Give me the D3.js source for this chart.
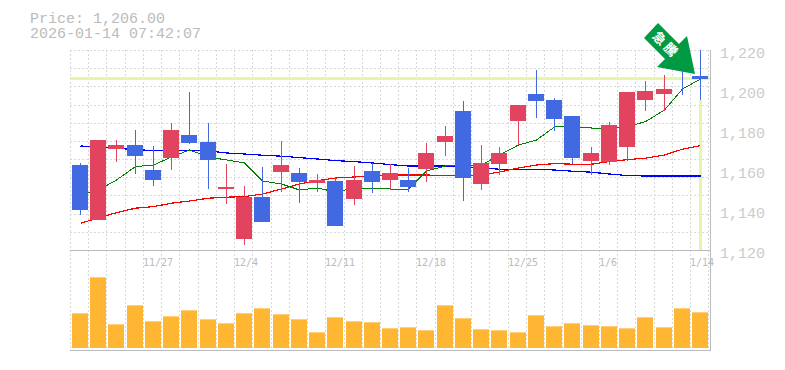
<!DOCTYPE html>
<html>
<head>
<meta charset="utf-8">
<script src="https://cdn.jsdelivr.net/npm/d3@7"></script>
<style>
    html, body { margin: 0; padding: 0; background: #fff; overflow: hidden; }
</style>
</head>
<body>
<div id="chart-container"></div>
<script>
const dates = ['11/20', '11/21', '11/25', '11/26', '11/27', '11/28', '12/1', '12/2', '12/3', '12/4', '12/5', '12/8', '12/9', '12/10', '12/11', '12/12', '12/15', '12/16', '12/17', '12/18', '12/19', '12/22', '12/23', '12/24', '12/25', '12/26', '12/29', '12/30', '1/5', '1/6', '1/7', '1/8', '1/9', '1/13', '1/14'];
const dateLabels = ['11/27', '12/4', '12/11', '12/18', '12/25', '1/6', '1/14'];
const priceTicks = [1120, 1140, 1160, 1180, 1200, 1220];

const opens = [1162.5, 1135, 1170.5, 1172.5, 1160, 1166, 1177.5, 1174, 1150.5, 1125.5, 1146.5, 1159, 1158.5, 1153.5, 1154.5, 1145.5, 1159.5, 1155, 1155, 1160.5, 1174, 1189.5, 1153, 1163, 1184.5, 1198, 1195, 1187, 1164.5, 1164, 1171.5, 1195, 1198, 1213.5, 1207];
const closes = [1140, 1175, 1172.5, 1167, 1155, 1180, 1173.5, 1165, 1151.5, 1146.5, 1134, 1162.5, 1154, 1155, 1132, 1155, 1154, 1158.5, 1151.5, 1168.5, 1177, 1156, 1163.5, 1168.5, 1192.5, 1194.5, 1185.5, 1166, 1168.5, 1182.5, 1199, 1199.5, 1200.5, 1210.5, 1205.5];
const highs = [1163.5, 1175, 1175, 1180, 1172, 1183.5, 1199, 1183.5, 1163, 1152, 1161.5, 1174.5, 1161, 1158, 1156.5, 1162, 1163.5, 1163, 1161, 1173.5, 1182, 1194.5, 1172.5, 1171.5, 1192.5, 1210, 1196, 1187, 1171.5, 1184, 1199, 1204.5, 1207.5, 1215, 1220];
const lows = [1137.5, 1135, 1164, 1158, 1152, 1160, 1173, 1150.5, 1143, 1122.5, 1134, 1149, 1143.5, 1149, 1132, 1142.5, 1148.5, 1150, 1149, 1154, 1167, 1144.5, 1150, 1157.5, 1172.5, 1186, 1179.5, 1163, 1157.5, 1162.5, 1164.5, 1189.5, 1189.5, 1197.5, 1195];
const volumes = [104, 212, 71, 128, 80, 95, 113, 86, 74, 104, 119, 101, 86, 47, 92, 80, 77, 59, 62, 53, 128, 89, 56, 53, 47, 98, 65, 74, 68, 65, 59, 92, 62, 119, 107];

const maShort = [1147.5, 1150, 1155, 1161.7, 1162.5, 1166.5, 1170, 1166.5, 1165, 1163.5, 1154.5, 1153, 1150, 1151, 1149, 1151, 1150.8, 1150.5, 1150.5, 1159.5, 1162, 1162.2, 1162.5, 1167.5, 1172.5, 1175, 1181.5, 1181.7, 1181, 1181, 1181.7, 1184.2, 1190, 1200.5, 1205.5];
const maMid = [1133.4, 1136, 1138.7, 1140.9, 1141.7, 1143.4, 1144.5, 1145.9, 1146.4, 1146.7, 1148, 1150.5, 1153, 1154.7, 1156, 1156.5, 1157, 1157.5, 1157.5, 1157.5, 1157.2, 1157.2, 1157.5, 1159, 1161, 1162.5, 1163.2, 1162.9, 1162.9, 1164.2, 1165.2, 1165.9, 1167.5, 1170.4, 1172.2];
const maLong = [1172, 1171.5, 1171, 1170, 1169.9, 1169.8, 1169.8, 1169.5, 1168.5, 1168, 1167.4, 1166.9, 1166.2, 1165.5, 1164.7, 1164.2, 1163.5, 1162.7, 1162, 1162, 1162, 1161.7, 1161, 1160.4, 1160.4, 1160.4, 1160, 1159.4, 1158.9, 1158, 1157.2, 1157, 1157, 1157, 1157];

const currentPrice = 1206;
const titleLines = ['Price: 1,206.00', '2026-01-14 07:42:07'];

function createChart(elementId) {
    // container dimensions
    const width = 785;
    const height = 370;
    const plot = { left: 70, right: 710, top: 50, priceBottom: 250, volumeBottom: 350 };

    const upColor = '#e2445f';
    const downColor = '#4169e1';
    const volumeColor = '#ffb733';
    const gridColor = '#d8d8d8';
    const frameColor = '#bbb';
    const highlightColor = '#e6f5a8';

    const svg = d3.select(elementId).append('svg')
        .attr('width', width)
        .attr('height', height)
        .style('display', 'block');

    const x = d3.scaleBand().domain(dates).range([71, 71 + 35 * 18.235]);
    const center = d => Math.round(x(d) + x.bandwidth() / 2 - 0.1);
    const y = d3.scaleLinear().domain([1120, 1220]).range([plot.priceBottom, plot.top]);
    const yVolume = d3.scaleLinear().domain([0, 294]).range([348, 250]);
    const gridX = i => Math.floor(70.5 + i * x.step()) + 0.5;

    // dashed grid
    const grid = svg.append('g')
        .attr('stroke', gridColor)
        .attr('stroke-dasharray', '2,2');

    grid.selectAll('.v')
        .data(d3.range(36))
        .join('line')
        .attr('class', 'v')
        .attr('x1', gridX)
        .attr('x2', gridX)
        .attr('y1', plot.top)
        .attr('y2', plot.volumeBottom);

    grid.selectAll('.h')
        .data(d3.range(11))
        .join('line')
        .attr('class', 'h')
        .attr('x1', plot.left)
        .attr('x2', plot.right)
        .attr('y1', i => Math.round(plot.top + i * 200 / 11) + 0.5)
        .attr('y2', i => Math.round(plot.top + i * 200 / 11) + 0.5);

    // current price markers
    const last = dates[dates.length - 1];
    svg.append('line')
        .attr('x1', plot.left)
        .attr('x2', plot.right)
        .attr('y1', y(currentPrice) + 0.5)
        .attr('y2', y(currentPrice) + 0.5)
        .attr('stroke', highlightColor)
        .attr('stroke-width', 3);

    svg.append('line')
        .attr('x1', center(last) + 0.5)
        .attr('x2', center(last) + 0.5)
        .attr('y1', y(lows[lows.length - 1]))
        .attr('y2', plot.priceBottom)
        .attr('stroke', highlightColor)
        .attr('stroke-width', 3);

    // moving averages
    const line = d3.line().x((d, i) => center(dates[i]) + 0.5).y(d => y(d));
    [[maLong, '#0000ff', 1.2], [maMid, '#ff0000', 1.2], [maShort, '#008000', 1]].forEach(([values, color, w]) => {
        svg.append('path')
            .attr('d', line(values))
            .attr('fill', 'none')
            .attr('stroke', color)
            .attr('stroke-width', w)
            .attr('shape-rendering', 'crispEdges');
    });

    // candles
    const candle = svg.append('g')
        .selectAll('g')
        .data(dates)
        .join('g')
        .attr('fill', (d, i) => closes[i] >= opens[i] ? upColor : downColor)
        .attr('stroke', (d, i) => closes[i] >= opens[i] ? upColor : downColor);

    candle.append('line')
        .attr('x1', d => center(d) + 0.5)
        .attr('x2', d => center(d) + 0.5)
        .attr('y1', (d, i) => y(highs[i]))
        .attr('y2', (d, i) => y(lows[i]));

    candle.append('rect')
        .attr('x', d => center(d) - 8)
        .attr('width', 16)
        .attr('y', (d, i) => y(Math.max(opens[i], closes[i])))
        .attr('height', (d, i) => Math.abs(y(opens[i]) - y(closes[i])))
        .attr('stroke', 'none');

    // volume
    svg.append('g')
        .selectAll('rect')
        .data(dates)
        .join('rect')
        .attr('x', d => center(d) - 8)
        .attr('width', 16)
        .attr('y', (d, i) => yVolume(volumes[i]))
        .attr('height', (d, i) => yVolume(0) - yVolume(volumes[i]))
        .attr('fill', volumeColor);

    // frame
    const frame = svg.append('g').attr('stroke', frameColor).attr('fill', 'none');
    frame.append('line')
        .attr('x1', plot.right + 0.5).attr('x2', plot.right + 0.5)
        .attr('y1', plot.top).attr('y2', plot.volumeBottom + 1)
        .attr('stroke-width', 1);
    frame.append('line')
        .attr('x1', plot.left).attr('x2', plot.right + 1)
        .attr('y1', plot.priceBottom + 0.5).attr('y2', plot.priceBottom + 0.5);
    frame.append('line')
        .attr('x1', plot.left).attr('x2', plot.right + 1)
        .attr('y1', plot.volumeBottom + 0.5).attr('y2', plot.volumeBottom + 0.5);

    // labels
    const mono = '"Liberation Mono", monospace';
    svg.selectAll('.price-label')
        .data(priceTicks)
        .join('text')
        .attr('class', 'price-label')
        .attr('x', 720)
        .attr('y', d => y(d) + 8)
        .attr('font-family', mono)
        .attr('font-size', 15)
        .attr('fill', '#ccc')
        .text(d3.format(','));

    svg.selectAll('.date-label')
        .data(dateLabels)
        .join('text')
        .attr('class', 'date-label')
        .attr('x', d => gridX(dates.indexOf(d)) - 0.5)
        .attr('y', 266)
        .attr('font-family', '"DejaVu Sans Mono", monospace')
        .attr('font-size', 10)
        .attr('fill', '#bbb')
        .text(d => d);

    svg.selectAll('.title-line')
        .data(titleLines)
        .join('text')
        .attr('class', 'title-line')
        .attr('x', 30)
        .attr('y', (d, i) => 23 + i * 15)
        .attr('font-family', mono)
        .attr('font-size', 15)
        .attr('fill', '#bbb')
        .text(d => d);

    // arrow pointing at the last candle
    const tipX = center(last) - 5;
    const tipY = y(currentPrice) - 4;
    const arrowShape = [[-37, -51], [-16, -30], [-8, -38], [0, 0], [-38, -7], [-30, -15], [-51, -36]];
    svg.append('polygon')
        .attr('points', arrowShape.map(p => [tipX + p[0], tipY + p[1]].join(',')).join(' '))
        .attr('fill', '#009944');

    svg.append('text')
        .attr('transform', `translate(${tipX - 29},${tipY - 29}) rotate(45)`)
        .attr('text-anchor', 'middle')
        .attr('dy', '0.35em')
        .attr('font-family', '"Noto Sans CJK JP"')
        .attr('font-size', 13)
        .attr('font-weight', 'bold')
        .attr('letter-spacing', 3)
        .attr('fill', '#fff')
        .text('急騰');
}

createChart('#chart-container');
</script>
</body>
</html>
